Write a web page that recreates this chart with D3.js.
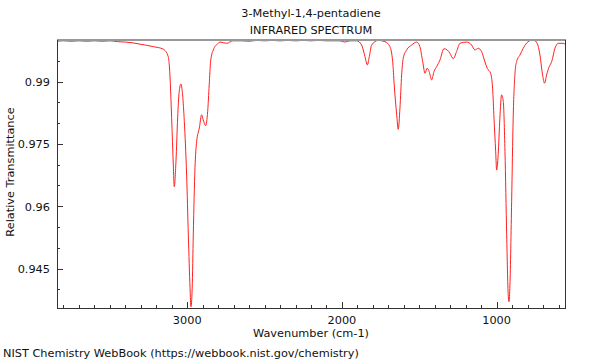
<!DOCTYPE html>
<html><head><meta charset="utf-8">
<script src="https://cdn.jsdelivr.net/npm/d3@7"></script>
<style>body{margin:0;background:#fff}svg{display:block}text{font-family:"DejaVu Sans",sans-serif;fill:#111}</style>
</head><body>
<svg id="c" width="600" height="360"></svg>
<script>
const titleLines = ["3-Methyl-1,4-pentadiene", "INFRARED SPECTRUM"];
const xLabel = "Wavenumber (cm-1)";
const yLabel = "Relative Transmittance";
const footer = "NIST Chemistry WebBook (https://webbook.nist.gov/chemistry)";
const xDomain = [3842, 558];
const yDomain = [0.9355, 1.0];
const xMajorTicks = [3000, 2000, 1000];
const yMajorTicks = [0.945, 0.96, 0.975, 0.99];
const yTickLabels = ["0.945", "0.96", "0.975", "0.99"];
const wavenumber = [3842,3800,3750,3700,3650,3600,3550,3500,3450,3400,3350,3305,3220,3155,3123,3112,3101,3090,3084,3073,3062,3052,3041,3030,3019,3004,2993,2982,2976,2968,2961,2950,2939,2922,2907,2897,2881,2868,2858,2849,2832,2800,2789,2745,2705,2650,2600,2550,2500,2450,2400,2350,2300,2250,2200,2150,2100,2050,2013,1981,1948,1905,1873,1851,1836,1823,1808,1765,1722,1690,1672,1662,1646,1636,1625,1614,1604,1582,1549,1517,1496,1478,1463,1449,1436,1420,1405,1388,1366,1341,1319,1302,1281,1259,1237,1194,1162,1140,1119,1097,1076,1061,1039,1026,1017,1006,1000,990,979,968,957,946,935,925,920,914,903,893,882,871,849,828,796,763,738,720,703,690,677,660,644,623,602,570,558];
const transmittance = [0.9997,0.9998,0.9997,0.9998,0.9997,0.9998,0.9997,0.9998,0.9996,0.9995,0.9993,0.9990,0.9984,0.9978,0.9960,0.9916,0.9813,0.9699,0.9647,0.9707,0.9813,0.9876,0.9894,0.9868,0.9804,0.9675,0.9531,0.9403,0.9358,0.9403,0.9531,0.9692,0.9756,0.9788,0.9820,0.9808,0.9794,0.9828,0.9892,0.9948,0.9976,0.9992,0.9995,0.9992,0.9998,0.9998,0.9997,0.9999,0.9998,0.9999,0.9998,0.9999,0.9998,0.9999,0.9998,0.9999,0.9998,0.9998,0.9998,0.9995,0.9998,0.9998,0.9988,0.9960,0.9940,0.9960,0.9988,0.9999,0.9996,0.9984,0.9948,0.9892,0.9820,0.9785,0.9836,0.9916,0.9956,0.9976,0.9988,0.9995,0.9984,0.9948,0.9920,0.9932,0.9924,0.9904,0.9924,0.9936,0.9952,0.9979,0.9976,0.9968,0.9955,0.9972,0.9992,0.9995,0.9988,0.9976,0.9980,0.9972,0.9948,0.9932,0.9920,0.9884,0.9812,0.9731,0.9687,0.9724,0.9812,0.9868,0.9852,0.9731,0.9531,0.9386,0.9370,0.9410,0.9611,0.9812,0.9916,0.9948,0.9964,0.9980,0.9996,1.0000,0.9992,0.9964,0.9916,0.9896,0.9916,0.9936,0.9948,0.9980,0.9992,0.9992,0.9990];

const svg = d3.select("#c");
const fs = 11.3;
const m = {l:57, r:565, t:40, b:308};
const x = d3.scaleLinear().domain(xDomain).range([m.l, m.r]);
const y = d3.scaleLinear().domain(yDomain).range([m.b, m.t]);

// ticks
const xMinor = d3.range(3800, 500, -100).filter(v => v <= xDomain[0] && v >= xDomain[1]);
const yMinor = d3.range(0, 14).map(i => +(0.94 + i*0.005).toFixed(3)).filter(v => v >= yDomain[0] && v < yDomain[1]);
const axisColor = "#333";
const g = svg.append("g");
g.selectAll(".xt").data(xMinor).join("line")
  .attr("x1", d => Math.round(x(d))+0.5).attr("x2", d => Math.round(x(d))+0.5)
  .attr("y1", m.b).attr("y2", d => m.b - (xMajorTicks.includes(d) ? 6 : 3))
  .attr("stroke", axisColor);
g.selectAll(".yt").data(yMinor).join("line")
  .attr("y1", d => Math.round(y(d))+0.5).attr("y2", d => Math.round(y(d))+0.5)
  .attr("x1", m.l).attr("x2", d => m.l + (yMajorTicks.some(t => Math.abs(t-d)<1e-6) ? 6 : 3))
  .attr("stroke", axisColor);

// spectrum
const data = wavenumber.map((w,i) => [w, transmittance[i]]);
svg.append("defs").append("clipPath").attr("id","cp").append("rect")
  .attr("x", m.l).attr("y", m.t-1).attr("width", m.r-m.l).attr("height", m.b-m.t+1);
svg.append("path").datum(data)
  .attr("clip-path","url(#cp)")
  .attr("fill","none").attr("stroke","#ff2020").attr("stroke-width",1)
  .attr("d", d3.line().x(d => x(d[0])).y(d => y(d[1])).curve(d3.curveMonotoneX));

// frame
svg.append("line").attr("x1", m.l).attr("x2", m.r+1).attr("y1", m.t).attr("y2", m.t).attr("stroke","#999").attr("stroke-width",2);
svg.append("line").attr("x1", m.l+0.5).attr("x2", m.l+0.5).attr("y1", m.t).attr("y2", m.b+0.5).attr("stroke",axisColor);
svg.append("line").attr("x1", m.r+0.5).attr("x2", m.r+0.5).attr("y1", m.t).attr("y2", m.b+0.5).attr("stroke",axisColor);
svg.append("line").attr("x1", m.l).attr("x2", m.r+1).attr("y1", m.b+0.5).attr("y2", m.b+0.5).attr("stroke",axisColor);

// tick labels
svg.selectAll(".xl").data(xMajorTicks).join("text")
  .attr("x", d => x(d)).attr("y", 324).attr("text-anchor","middle").attr("font-size",fs).text(d => d);
svg.selectAll(".yl").data(yMajorTicks).join("text")
  .attr("x", 50).attr("y", d => y(d)+4.5).attr("text-anchor","end").attr("font-size",fs)
  .text((d,i) => yTickLabels[i]);

// titles
svg.selectAll(".tt").data(titleLines).join("text")
  .attr("x", 311).attr("y", (d,i) => 17 + i*17).attr("text-anchor","middle").attr("font-size",fs).text(d => d);
svg.append("text").attr("x", 311).attr("y", 337).attr("text-anchor","middle").attr("font-size",fs).text(xLabel);
svg.append("text").attr("transform","translate(14,172) rotate(-90)").attr("text-anchor","middle").attr("font-size",fs).text(yLabel);
svg.append("text").attr("x", 3).attr("y", 357).attr("font-size",fs).text(footer);
</script>
</body></html>
